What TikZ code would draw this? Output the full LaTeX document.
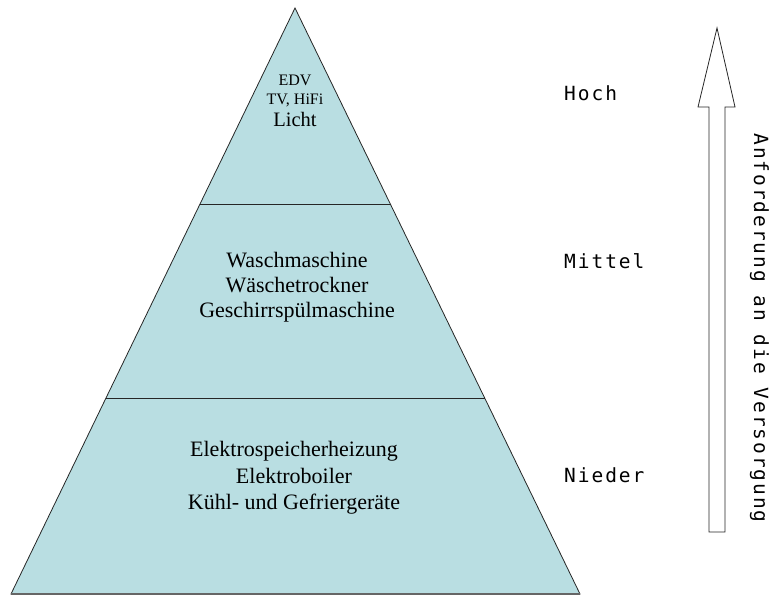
\documentclass[tikz,border=0pt]{standalone}
\usepackage{fontspec}
\setmainfont{Liberation Serif}
\newfontfamily\monofont[LetterSpace=10]{DejaVu Sans Mono}
\usetikzlibrary{calc}
\usetikzlibrary{positioning}
\definecolor{piramide}{RGB}{185,222,226}
\tikzset{
  livello/.style={font=\fontsize{22}{25}\selectfont, align=center, inner sep=0pt},
  etichetta/.style={font=\monofont\fontsize{19.5}{22}\selectfont, anchor=base west, inner sep=0pt},
  bordo/.style={draw=black!85, line width=0.8pt},
}

\begin{document}
\begin{tikzpicture}[x=1pt,y=-1pt]
\useasboundingbox (0,0) rectangle (773,597);

% piramide
\coordinate (apice) at (295,8);
\coordinate (bsx) at (11,594);
\coordinate (bdx) at (580,594);
\filldraw[fill=piramide, bordo] (apice) -- (bdx) -- (bsx) -- cycle;
\draw[black!60, line width=2.5pt] (bsx) -- (bdx);
\draw[bordo] ($(apice)!0.3345!(bsx)$) -- ($(apice)!0.3345!(bdx)$);
\draw[bordo] ($(apice)!0.667!(bsx)$) -- ($(apice)!0.667!(bdx)$);

% livelli
\node[livello, font=\fontsize{16}{18.5}\selectfont] (edv) at (295,91) {EDV\\TV, HiFi};
\node[livello, font=\fontsize{20.5}{24}\selectfont, below=5pt of edv] (licht) {Licht};
\node[livello] (mittel) at (297,287) {Waschmaschine\\Wäschetrockner\\Geschirrspülmaschine};
\node[livello, font=\fontsize{22}{26.5}\selectfont] (nieder) at (294,478) {Elektrospeicherheizung\\Elektroboiler\\Kühl- und Gefriergeräte};

% etichette
\node[etichetta] (hoch) at (564,100) {Hoch};
\node[etichetta] (mitte) at (564,268) {Mittel};
\node[etichetta] (tief) at (564,482) {Nieder};

% freccia
\coordinate (punta) at (717,28);
\coordinate (tsx) at (698,107);
\coordinate (ssx) at (709,107);
\coordinate (fsx) at (709,532);
\coordinate (fdx) at (725,532);
\coordinate (sdx) at (725,107);
\coordinate (tdx) at (735,107);
\draw[black!85, line width=0.8pt, fill=white] (punta) -- (tdx) -- (sdx) -- (fdx) -- (fsx) -- (ssx) -- (tsx) -- cycle;
\node[font=\monofont\fontsize{19.5}{22}\selectfont, rotate=-90, anchor=base, inner sep=0pt] (anforderung) at (754,328) {Anforderung an die Versorgung};
\end{tikzpicture}
\end{document}
